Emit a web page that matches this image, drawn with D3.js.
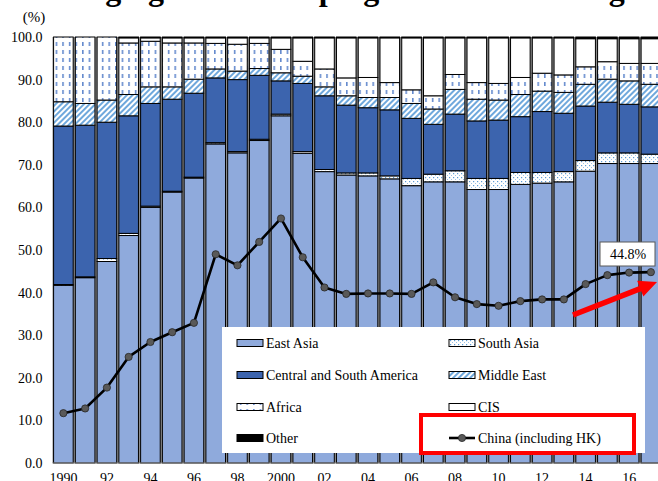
<!DOCTYPE html>
<html>
<head>
<meta charset="utf-8">
<script src="https://cdn.jsdelivr.net/npm/d3@7"></script>
<style>
  html, body { margin: 0; padding: 0; background: #fff; }
  svg { display: block; font-family: "Liberation Serif", "Times New Roman", serif; }
</style>
</head>
<body>
<svg id="chart" width="658" height="481"></svg>
<script>
// Share of imports by region (%), 1990-2017
const years = d3.range(1990, 2018);

const eastAsia     = [41.7,43.5,47.3,53.4,60.0,63.6,66.9,74.9,72.8,75.7,81.5,72.7,68.4,67.6,67.4,66.7,65.1,66.0,66.0,64.2,64.2,65.4,65.7,66.0,68.5,70.3,70.3,70.3];
const southAsia    = [0.2,0.2,0.7,0.5,0.3,0.2,0.2,0.3,0.3,0.3,0.4,0.4,0.5,0.5,0.7,0.7,1.7,1.8,2.6,2.6,2.6,2.8,2.5,2.4,2.5,2.5,2.5,2.2];
const centralSouthAmerica = [37.2,35.6,32.0,27.6,24.1,21.6,19.7,15.2,16.9,15.0,7.8,16.0,17.3,15.9,15.3,15.5,14.1,11.7,13.3,13.5,13.7,13.1,14.3,13.7,12.8,11.9,11.4,11.1];
const middleEast   = [5.7,5.1,5.2,5.0,3.9,2.9,3.3,2.1,2.0,1.6,1.9,1.7,2.1,2.2,2.4,2.9,3.5,3.6,5.8,5.1,4.7,5.2,4.8,4.9,5.1,5.4,5.5,5.3];
const africa       = [15.2,15.6,14.8,12.1,10.7,10.3,8.5,6.0,6.3,5.9,5.5,3.5,4.2,4.2,4.7,3.5,3.2,3.1,3.5,3.9,3.9,4.0,4.2,4.1,4.1,4.1,4.1,4.9];
const cis          = [0,0,0,1.2,0.8,1.2,1.2,1.3,1.5,1.3,2.7,5.5,7.3,9.4,9.3,10.5,12.2,13.6,8.6,10.5,10.7,9.3,8.3,8.7,6.6,5.4,5.8,5.8];
const other        = [0,0,0,0.2,0.2,0.2,0.2,0.2,0.2,0.2,0.2,0.2,0.2,0.2,0.2,0.2,0.2,0.2,0.2,0.2,0.2,0.2,0.2,0.2,0.4,0.4,0.4,0.4];
const china        = [11.7,12.8,17.7,24.9,28.4,30.7,32.9,49.0,46.4,51.9,57.4,48.3,41.2,39.7,39.8,39.8,39.7,42.4,38.9,37.3,36.9,38.0,38.4,38.4,42.0,44.1,44.7,44.8];

const seriesKeys   = ["East Asia","South Asia","Central and South America","Middle East","Africa","CIS","Other"];
const seriesValues = [eastAsia, southAsia, centralSouthAmerica, middleEast, africa, cis, other];
const chinaLabel   = "China (including HK)";

const yTicks       = [0,10,20,30,40,50,60,70,80,90,100];
const xTickYears   = [1990,1992,1994,1996,1998,2000,2002,2004,2006,2008,2010,2012,2014,2016];
const xTickLabels  = ["1990","92","94","96","98","2000","02","04","06","08","10","12","14","16"];

const titleLead = "Share of";
const titleText = "emerging and developing countries and regions";

// ---- table for d3.stack ----
const table = years.map((yr, i) => {
  const row = { year: yr };
  seriesKeys.forEach((k, j) => { row[k] = seriesValues[j][i]; });
  return row;
});

const svg = d3.select("#chart");
const defs = svg.append("defs");

// Fill patterns
const pSA = defs.append("pattern").attr("id", "pSouthAsia")
  .attr("patternUnits", "userSpaceOnUse").attr("width", 4).attr("height", 4);
pSA.append("rect").attr("width", 4).attr("height", 4).attr("fill", "#fff");
pSA.append("rect").attr("x", 1).attr("y", 1).attr("width", 1.2).attr("height", 1.2).attr("fill", "#5b9bd5");
pSA.append("rect").attr("x", 3).attr("y", 3).attr("width", 1.2).attr("height", 1.2).attr("fill", "#9dc3e6");

const pME = defs.append("pattern").attr("id", "pMiddleEast")
  .attr("patternUnits", "userSpaceOnUse").attr("width", 4).attr("height", 4)
  .attr("patternTransform", "rotate(45)");
pME.append("rect").attr("width", 4).attr("height", 4).attr("fill", "#fff");
pME.append("rect").attr("x", 0).attr("y", 0).attr("width", 2).attr("height", 4).attr("fill", "#6fa8dc");

const pAF = defs.append("pattern").attr("id", "pAfrica")
  .attr("patternUnits", "userSpaceOnUse").attr("width", 6.6).attr("height", 8);
pAF.append("rect").attr("width", 6.6).attr("height", 8).attr("fill", "#fff");
pAF.append("rect").attr("x", 3).attr("y", 2).attr("width", 1.3).attr("height", 4).attr("fill", "#4472c4");

const fills = {
  "East Asia": "#8faadc",
  "South Asia": "url(#pSouthAsia)",
  "Central and South America": "#3c64ae",
  "Middle East": "url(#pMiddleEast)",
  "Africa": "url(#pAfrica)",
  "CIS": "#ffffff",
  "Other": "#000000"
};

// ---- scales ----
const plotLeft = 52.5, plotTop = 37, plotBottom = 463;
const step = 21.76;
const x = d3.scaleBand().domain(years)
  .range([plotLeft, plotLeft + step * years.length])
  .paddingInner(0.1).paddingOuter(0.05);
const y = d3.scaleLinear().domain([0, 100]).range([plotBottom, plotTop]);

// Title (upper part falls outside the frame)
svg.append("text").attr("x", 36).attr("y", 0)
  .attr("font-size", 32).attr("font-weight", "bold").attr("fill", "#000")
  .text(titleText);
svg.append("text").attr("x", 28).attr("y", 0).attr("text-anchor", "end")
  .attr("font-size", 32).attr("font-weight", "bold").attr("fill", "#000")
  .text(titleLead);

// Unit label
svg.append("text").attr("x", 34).attr("y", 22).attr("text-anchor", "middle")
  .attr("font-size", 15).text("(%)");

// Plot background shows through the gaps between bars
svg.append("rect")
  .attr("x", plotLeft).attr("y", y(100))
  .attr("width", step * years.length).attr("height", y(0) - y(100))
  .attr("fill", "#8a8a8a");

// Stacked bars
const stacked = d3.stack().keys(seriesKeys)(table);
svg.append("g").selectAll("g").data(stacked).join("g")
  .attr("fill", d => fills[d.key])
  .selectAll("rect").data(d => d).join("rect")
  .attr("x", d => x(d.data.year))
  .attr("width", x.bandwidth())
  .attr("y", d => y(d[1]))
  .attr("height", d => Math.max(0, y(d[0]) - y(d[1])))
  .attr("stroke", "#000").attr("stroke-width", 1);

// Y axis labels
const yAxis = d3.axisLeft(y).tickValues(yTicks).tickFormat(d3.format(".1f")).tickSize(0).tickPadding(10);
const gy = svg.append("g").attr("transform", `translate(${plotLeft},0)`).call(yAxis);
gy.select(".domain").remove();
gy.selectAll("text").attr("font-size", 14).attr("font-family", "Liberation Serif").attr("fill", "#000");

// X axis baseline + labels
svg.append("line").attr("x1", plotLeft).attr("x2", 658)
  .attr("y1", y(0)).attr("y2", y(0)).attr("stroke", "#808080").attr("stroke-width", 1);
const xLabelScale = d3.scaleOrdinal().domain(xTickYears).range(xTickLabels);
const xAxis = d3.axisBottom(x).tickValues(xTickYears).tickFormat(d => xLabelScale(d)).tickSize(0).tickPadding(10);
const gx = svg.append("g").attr("transform", `translate(0,${y(0)})`).call(xAxis);
gx.select(".domain").remove();
gx.selectAll("text").attr("font-size", 14).attr("font-family", "Liberation Serif").attr("fill", "#000");

// China line
const cx = yr => x(yr) + x.bandwidth() / 2;
const chinaPts = years.map((yr, i) => ({ year: yr, v: china[i] }));
svg.append("path").datum(chinaPts)
  .attr("fill", "none").attr("stroke", "#000").attr("stroke-width", 2.6)
  .attr("stroke-linejoin", "round")
  .attr("d", d3.line().x(d => cx(d.year)).y(d => y(d.v)));
svg.append("g").selectAll("circle").data(chinaPts).join("circle")
  .attr("cx", d => cx(d.year)).attr("cy", d => y(d.v)).attr("r", 3.6)
  .attr("fill", "#595959").attr("stroke", "#262626").attr("stroke-width", 0.8);

// Legend
svg.append("rect").attr("x", 222).attr("y", 327).attr("width", 423).attr("height", 126).attr("fill", "#fff");
const legendItems = seriesKeys.concat([chinaLabel]);
const colX = [237, 449], rowY = [343, 375, 407, 438];
const lg = svg.append("g").selectAll("g").data(legendItems).join("g")
  .attr("transform", (d, i) => `translate(${colX[i % 2]},${rowY[Math.floor(i / 2)]})`);
lg.filter(d => d !== chinaLabel).append("rect")
  .attr("x", 0).attr("y", -3.5).attr("width", 26).attr("height", 7)
  .attr("fill", d => fills[d]).attr("stroke", "#000").attr("stroke-width", 1);
const chinaLg = lg.filter(d => d === chinaLabel);
chinaLg.append("line").attr("x1", 0).attr("x2", 26).attr("y1", 0).attr("y2", 0)
  .attr("stroke", "#000").attr("stroke-width", 2.6);
chinaLg.append("circle").attr("cx", 13).attr("cy", 0).attr("r", 3.6)
  .attr("fill", "#595959").attr("stroke", "#262626").attr("stroke-width", 0.8);
lg.append("text").attr("x", 29).attr("y", 5).attr("font-size", 14).attr("fill", "#000").text(d => d);

// Highlight frame around the China legend entry
svg.append("rect").attr("x", 421).attr("y", 415).attr("width", 213).attr("height", 38)
  .attr("fill", "none").attr("stroke", "#ff0000").attr("stroke-width", 4);

// Latest value callout
const lastIdx = years.length - 1;
svg.append("rect").attr("x", 600).attr("y", 242).attr("width", 55).attr("height", 24)
  .attr("fill", "#fff").attr("stroke", "#595959").attr("stroke-width", 1);
svg.append("text").attr("x", 628).attr("y", 259).attr("text-anchor", "middle")
  .attr("font-size", 14).attr("fill", "#000")
  .text(d3.format(".1f")(china[lastIdx]) + "%");

// Red arrow toward the latest point
(function drawArrow(x0, y0, x1, y1) {
  const dx = x1 - x0, dy = y1 - y0, len = Math.hypot(dx, dy);
  const ux = dx / len, uy = dy / len, nx = -uy, ny = ux;
  const hw = 2.8, headLen = 18, headW = 8.5;
  const bx = x1 - ux * headLen, by = y1 - uy * headLen;
  const pts = [
    [x0 + nx * hw, y0 + ny * hw], [bx + nx * hw, by + ny * hw], [bx + nx * headW, by + ny * headW],
    [x1, y1],
    [bx - nx * headW, by - ny * headW], [bx - nx * hw, by - ny * hw], [x0 - nx * hw, y0 - ny * hw]
  ];
  svg.append("polygon").attr("points", pts.map(p => p.join(",")).join(" ")).attr("fill", "#ff0000");
})(573, 315, 657, 282);
</script>
</body>
</html>
